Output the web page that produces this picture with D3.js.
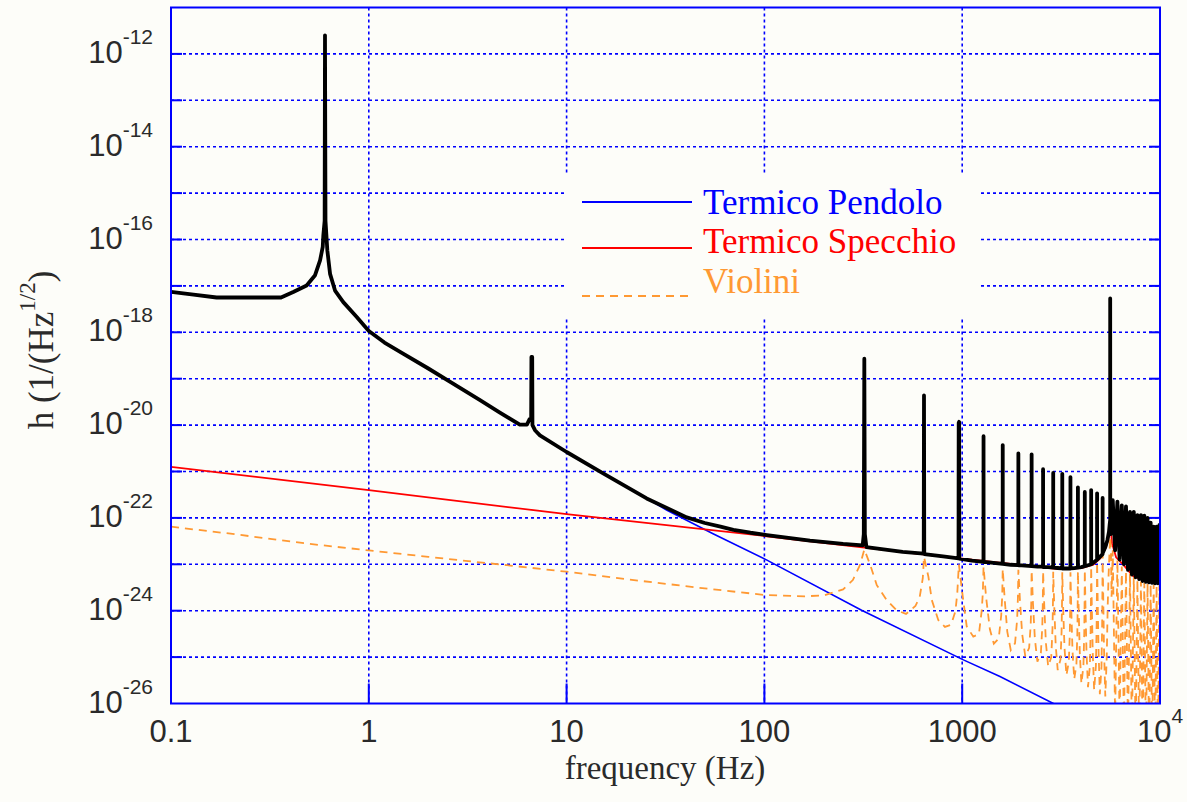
<!DOCTYPE html>
<html><head><meta charset="utf-8">
<script src="https://cdn.jsdelivr.net/npm/d3@7"></script>
<style>html,body{margin:0;padding:0;background:#fdfdf9;} svg{display:block;}</style>
</head><body>
<svg id="chart" width="1187" height="802"></svg>
<script>
// ---------- data (frequency in Hz, value as log10 of h) ----------
const xTickValues = [0.1, 1, 10, 100, 1000, 10000];
const xTickLabels = ["0.1", "1", "10", "100", "1000", "10|4"];
const yGridExps = [-25, -24, -23, -22, -21, -20, -19, -18, -17, -16, -15, -14, -13, -12];
const yLabelExps = [-26, -24, -22, -20, -18, -16, -14, -12];

const seriesNames = ["Termico Pendolo", "Termico Specchio", "Violini"];
const seriesColors = ["#0000ff", "#ff0000", "#ff9933"];

// Termico Pendolo (blue)
const pendolo = [[10,-20.58],[15.3,-21.04],[25.4,-21.58],[32,-21.83],[55,-22.34],[103,-22.91],
  [310,-23.99],[1014,-25.06],[1552,-25.42],[2890,-26.0],[3200,-26.1]];

// Termico Specchio (red)
const specchio = [[0.1,-20.90],[1,-21.40],[10,-21.92],[100,-22.39],[1000,-22.88],[3000,-23.10],
  [4000,-23.08],[4600,-23.01],[5000,-22.87],[5300,-22.66],[5480,-22.46],[5560,-22.22],[5600,-22.05],
  [5640,-22.25],[5720,-22.55],[6000,-22.85],[6500,-23.0],[7300,-23.25],[8500,-23.37],[10000,-23.41]];

// Violini (orange, dashed)
const violini = [[0.1,-22.19],[0.2,-22.34],[0.5,-22.56],[1,-22.70],[2,-22.84],[5,-23.02],[10,-23.16],
  [20,-23.32],[50,-23.52],[100,-23.66],[160,-23.69],[200,-23.67],[250,-23.54],[280,-23.34],[304,-23.02],
  [320,-22.68],[342,-23.0],[370,-23.45],[415,-23.77],[466,-23.99],[520,-24.07],[580,-23.90],[610,-23.70],[632,-23.30],
  [641,-22.84],[675,-23.27],[702,-23.77],[757,-24.20],[818,-24.35],[880,-24.30],[925,-24.0],[945,-23.6],
  [962,-23.0],[1000,-23.6],[1054,-24.34],[1138,-24.56],[1215,-24.5],[1255,-24.0],[1272,-23.6],
  [1282,-23.05],[1320,-23.7],[1380,-24.4],[1445,-24.71],[1530,-24.6],[1575,-24.1],[1593,-23.7],
  [1603,-23.1],[1640,-23.75],[1690,-24.45],[1760,-24.85],[1850,-24.7],[1895,-24.2],[1912,-23.75],
  [1923,-23.12],[1960,-23.8],[2010,-24.5],[2085,-24.99],[2180,-24.8],[2220,-24.3],[2235,-23.8],
  [2244,-23.13],[2280,-23.85],[2330,-24.6],[2400,-25.10],[2500,-24.9],[2540,-24.35],[2555,-23.85],
  [2564,-23.15],[2600,-23.9],[2650,-24.7],[2720,-25.2],[2820,-25.0],[2860,-24.4],[2875,-23.9],
  [2885,-23.16],[2920,-23.9],[2970,-24.75],[3040,-25.28],[3140,-25.05],[3180,-24.45],[3195,-23.9],
  [3206,-23.17],[3240,-23.95],[3290,-24.8],[3365,-25.39],[3460,-25.1],[3500,-24.5],[3515,-23.95],
  [3526,-23.17],[3560,-23.95],[3610,-24.85],[3685,-25.48],[3780,-25.15],[3820,-24.5],[3835,-23.95],
  [3846,-23.15],[3880,-23.95],[3930,-24.9],[4005,-25.57],[4100,-25.2],[4140,-24.5],[4155,-23.9],
  [4167,-23.12],[4200,-23.9],[4250,-24.9],[4325,-25.65],[4420,-25.2],[4460,-24.45],[4475,-23.85],
  [4487,-23.05],[4520,-23.85],[4570,-24.9],[4645,-25.71],[4740,-25.2],[4780,-24.4],[4795,-23.75],
  [4808,-22.95],[4840,-23.75],[4890,-24.85],[4965,-25.80],[5060,-25.2],[5100,-24.3],[5115,-23.6],
  [5128,-22.78],[5160,-23.6],[5210,-24.8],[5290,-25.85],[5380,-25.0],[5440,-23.9],[5500,-23.2],[5560,-22.7],
  [5600,-22.41],[5650,-22.7],[5690,-23.7],[5730,-23.2],[5770,-22.7],[5930,-26.3],[6090,-22.9],[6250,-26.4],
  [6410,-23.05],[6570,-26.5],[6730,-23.15],[6890,-26.6],[7050,-23.2],[7210,-26.7],[7370,-23.28],[7530,-26.8],
  [7690,-23.33],[7850,-26.9],[8010,-23.37],[8170,-27.0],[8330,-23.4],[8490,-27.0],[8650,-23.42],[8810,-27.0],
  [8970,-23.43],[9130,-27.0],[9290,-23.44],[9450,-27.0],[9610,-23.45],[9770,-27.0],[9930,-23.45],[10000,-24.5]];

// Totale (black, thick)
const totale = [[0.1,-17.13],[0.13,-17.19],[0.17,-17.25],[0.36,-17.25],[0.415,-17.13],[0.485,-16.99],
  [0.535,-16.77],[0.567,-16.45],[0.585,-16.16],[0.589,-15.91],[0.598,-15.6],[0.6005,-11.60],[0.604,-15.6],
  [0.617,-16.23],[0.637,-16.74],[0.675,-17.10],[0.743,-17.35],[0.869,-17.67],[1.0,-17.97],[1.2,-18.22],
  [1.49,-18.46],[2.0,-18.78],[2.58,-19.07],[3.65,-19.46],[4.6,-19.73],[5.8,-19.99],[6.3,-19.99],
  [6.5,-19.87],[6.62,-19.85],[6.64,-18.53],[6.70,-18.53],[6.72,-20.0],[6.92,-20.11],[7.33,-20.22],
  [10,-20.58],[15.3,-21.04],[25.4,-21.58],[40.5,-21.99],[50,-22.11],[60,-22.19],[69.7,-22.26],[85,-22.32],
  [103,-22.37],[170,-22.49],[250,-22.56],[314,-22.59],[318,-22.35],[320,-18.57],[322,-22.35],[328,-22.63],
  [400,-22.68],[500,-22.73],[639,-22.77],[641,-19.36],[643,-22.78],[800,-22.83],
  [958,-22.87],[960,-19.95],[965,-19.93],[967,-22.88],[1120,-22.92],
  [1281,-22.95],[1282,-20.24],[1283,-22.95],[1440,-22.97],
  [1602,-22.99],[1603,-20.43],[1604,-22.99],[1760,-23.01],
  [1922,-23.02],[1923,-20.61],[1924,-23.02],[2080,-23.03],
  [2243,-23.04],[2244,-20.63],[2245,-23.04],[2400,-23.05],
  [2563,-23.05],[2564,-20.95],[2565,-23.06],[2720,-23.06],
  [2884,-23.07],[2885,-21.03],[2886,-23.07],[3040,-23.08],
  [3205,-23.09],[3206,-21.05],[3207,-23.09],[3370,-23.09],
  [3525,-23.09],[3526,-21.12],[3527,-23.09],[3690,-23.08],
  [3845,-23.07],[3846,-21.34],[3847,-23.07],[4005,-23.06],
  [4166,-23.04],[4167,-21.44],[4168,-23.04],[4330,-23.02],
  [4486,-23.0],[4487,-21.40],[4488,-23.0],[4650,-22.95],
  [4807,-22.9],[4808,-21.47],[4809,-22.9],[4965,-22.84],
  [5127,-22.78],[5128,-21.57],[5129,-22.76],[5300,-22.62],[5420,-22.48],[5520,-22.30],[5580,-22.1],
  [5598,-22.05],[5600,-17.27],[5604,-21.9],[5640,-22.35],
  [5770,-21.62],[5930,-22.7],[6090,-21.65],[6250,-22.9],[6410,-21.73],[6570,-23.0],[6730,-21.75],[6890,-23.12],
  [7050,-21.87],[7210,-23.22],[7370,-21.87],[7530,-23.28],[7690,-21.94],[7850,-23.32],[8010,-21.94],[8170,-23.36],
  [8330,-21.95],[8490,-23.38],[8650,-22.0],[8810,-23.39],[8970,-22.1],[9130,-23.40],[9290,-22.19],[9450,-23.41],
  [9610,-22.19],[9770,-23.41],[9930,-22.15],[10000,-23.41]];

// ---------- drawing ----------
(function () {
const svg = d3.select("#chart");
const bg = "#fdfdf9";
svg.append("rect").attr("width",1187).attr("height",802).attr("fill",bg);

const pL = 171, pR = 1160, pT = 7.5, pB = 703.5;
const x = d3.scaleLog().domain([0.1, 1e4]).range([pL, pR]);
const y = d3.scaleLog().domain([1e-26, 1e-11]).range([pB, pT]);
const yv = e => y(Math.pow(10, e));
const blue = "#0000ff";

// grid
const grid = svg.append("g").attr("stroke", blue).attr("stroke-width", 1.6).attr("stroke-dasharray", "3,3");
yGridExps.forEach(e => {
  grid.append("line").attr("x1", pL).attr("x2", pR).attr("y1", yv(e)).attr("y2", yv(e));
});
xTickValues.slice(1, -1).forEach(f => {
  grid.append("line").attr("x1", x(f)).attr("x2", x(f)).attr("y1", pT).attr("y2", pB);
});

// legend box hides grid
svg.append("rect").attr("x", 564).attr("y", 175).attr("width", 414).attr("height", 143).attr("fill", bg);

// solid ticks
const ticks = svg.append("g").attr("stroke", blue).attr("stroke-width", 2);
yGridExps.forEach(e => {
  ticks.append("line").attr("x1", pL).attr("x2", pL + 11).attr("y1", yv(e)).attr("y2", yv(e));
  ticks.append("line").attr("x1", pR - 11).attr("x2", pR).attr("y1", yv(e)).attr("y2", yv(e));
});
xTickValues.slice(1, -1).forEach(f => {
  ticks.append("line").attr("x1", x(f)).attr("x2", x(f)).attr("y1", pB).attr("y2", pB - 20);
});

// clip
svg.append("clipPath").attr("id", "plotclip").append("rect")
  .attr("x", pL).attr("y", pT).attr("width", pR - pL).attr("height", pB - pT);
const plot = svg.append("g").attr("clip-path", "url(#plotclip)");
const line = d3.line().x(d => x(d[0])).y(d => yv(d[1]));

plot.append("path").datum(pendolo).attr("d", line).attr("fill", "none")
  .attr("stroke", seriesColors[0]).attr("stroke-width", 1.6);
plot.append("path").datum(specchio).attr("d", line).attr("fill", "none")
  .attr("stroke", seriesColors[1]).attr("stroke-width", 1.8);
plot.append("path").datum(violini).attr("d", line).attr("fill", "none")
  .attr("stroke", seriesColors[2]).attr("stroke-width", 1.8).attr("stroke-dasharray", "8,6");
plot.append("path").datum(totale).attr("d", line).attr("fill", "none")
  .attr("stroke", "#000").attr("stroke-width", 3.8).attr("stroke-linejoin", "round");

// frame
svg.append("rect").attr("x", pL).attr("y", pT).attr("width", pR - pL).attr("height", pB - pT)
  .attr("fill", "none").attr("stroke", blue).attr("stroke-width", 2);

// y tick labels
const sans = "'Liberation Sans', Arial, sans-serif";
const serif = "'Liberation Serif', 'Times New Roman', serif";
yLabelExps.forEach(e => {
  const t = svg.append("text").attr("x", 153).attr("y", yv(e) + 9)
    .attr("text-anchor", "end").attr("font-family", sans).attr("fill", "#2a2a2a");
  t.append("tspan").attr("font-size", 31).text("10");
  t.append("tspan").attr("font-size", 21).attr("dy", -19).text(String(e));
});

// x tick labels
xTickValues.forEach((f, i) => {
  const lab = xTickLabels[i];
  const t = svg.append("text").attr("x", x(f)).attr("y", 742)
    .attr("text-anchor", "middle").attr("font-family", sans).attr("fill", "#2a2a2a");
  if (lab.indexOf("|") >= 0) {
    const parts = lab.split("|");
    t.append("tspan").attr("font-size", 31).text(parts[0]);
    t.append("tspan").attr("font-size", 21).attr("dy", -19).text(parts[1]);
  } else {
    t.append("tspan").attr("font-size", 31).text(lab);
  }
});

// axis titles
svg.append("text").attr("x", 665).attr("y", 779).attr("text-anchor", "middle")
  .attr("font-family", serif).attr("font-size", 33).attr("fill", "#2a2a2a").text("frequency (Hz)");
const yt = svg.append("text").attr("transform", "translate(53,350) rotate(-90)")
  .attr("text-anchor", "middle").attr("font-family", serif).attr("font-size", 35).attr("fill", "#2a2a2a");
yt.append("tspan").text("h (1/(Hz");
yt.append("tspan").attr("font-size", 23).attr("dy", -18).text("1/2");
yt.append("tspan").attr("dy", 18).text(")");

// legend
const legY = [202, 248, 296];
const legTextY = [214, 253, 293];
seriesNames.forEach((name, i) => {
  const l = svg.append("line").attr("x1", 582).attr("x2", 692).attr("y1", legY[i]).attr("y2", legY[i])
    .attr("stroke", seriesColors[i]).attr("stroke-width", 1.8);
  if (i === 2) l.attr("stroke-dasharray", "8,6");
  svg.append("text").attr("x", 703).attr("y", legTextY[i]).attr("font-family", serif)
    .attr("font-size", 35).attr("fill", seriesColors[i]).text(name);
});
})();
</script>
</body></html>
